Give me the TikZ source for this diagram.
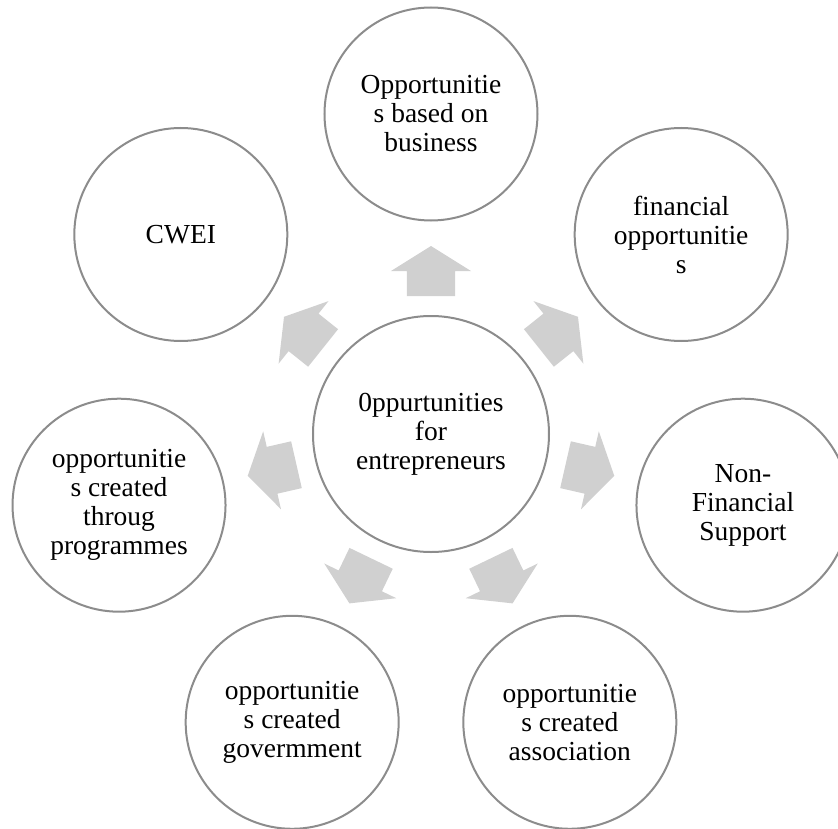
\documentclass[tikz,border=0pt]{standalone}
\usepackage{fontspec}
\setmainfont{Liberation Serif}
\usepackage{tikz}
\definecolor{ringgray}{RGB}{140,140,140}
\definecolor{arrowgray}{RGB}{208,208,208}
\begin{document}
\begin{tikzpicture}[x=1pt,y=1pt]
			\tikzstyle{bubble}=[circle,draw=ringgray,line width=2pt,fill=white,inner sep=0pt,minimum size=213pt,align=center,font=\fontsize{27.5}{29}\selectfont]
			\tikzstyle{hub}=[bubble,minimum size=236pt]
			\tikzstyle{blockarrow}=[fill=arrowgray]
			\useasboundingbox (-431,-394) rectangle (407,434);
			\node (hub)[hub] at (0,0) {0ppurtunities\\for\\entrepreneurs};
			\node (business)[bubble] at (90:320) {Opportunitie\\s based on\\business};
			\node (financial)[bubble] at (38.571:320) {financial\\opportunitie\\s};
			\node (nonfin)[bubble] at (-12.857:320) {Non-\\Financial\\Support};
			\node (assoc)[bubble] at (-64.286:320) {opportunitie\\s created\\association};
			\node (govt)[bubble] at (-115.714:320) {opportunitie\\s created\\govermment};
			\node (progr)[bubble] at (-167.143:320) {opportunitie\\s created\\throug\\programmes};
			\node (cwei)[bubble] at (141.429:320) {CWEI};
			
			\foreach \a in {90,38.571,-12.857,-64.286,-115.714,-167.143,141.429}
				\fill[blockarrow,shift={(hub.center)},rotate=\a] (138,-24) -- (163,-24) -- (163,-40) -- (188,0) -- (163,40) -- (163,24) -- (138,24) -- cycle;

		\end{tikzpicture}
\end{document}
